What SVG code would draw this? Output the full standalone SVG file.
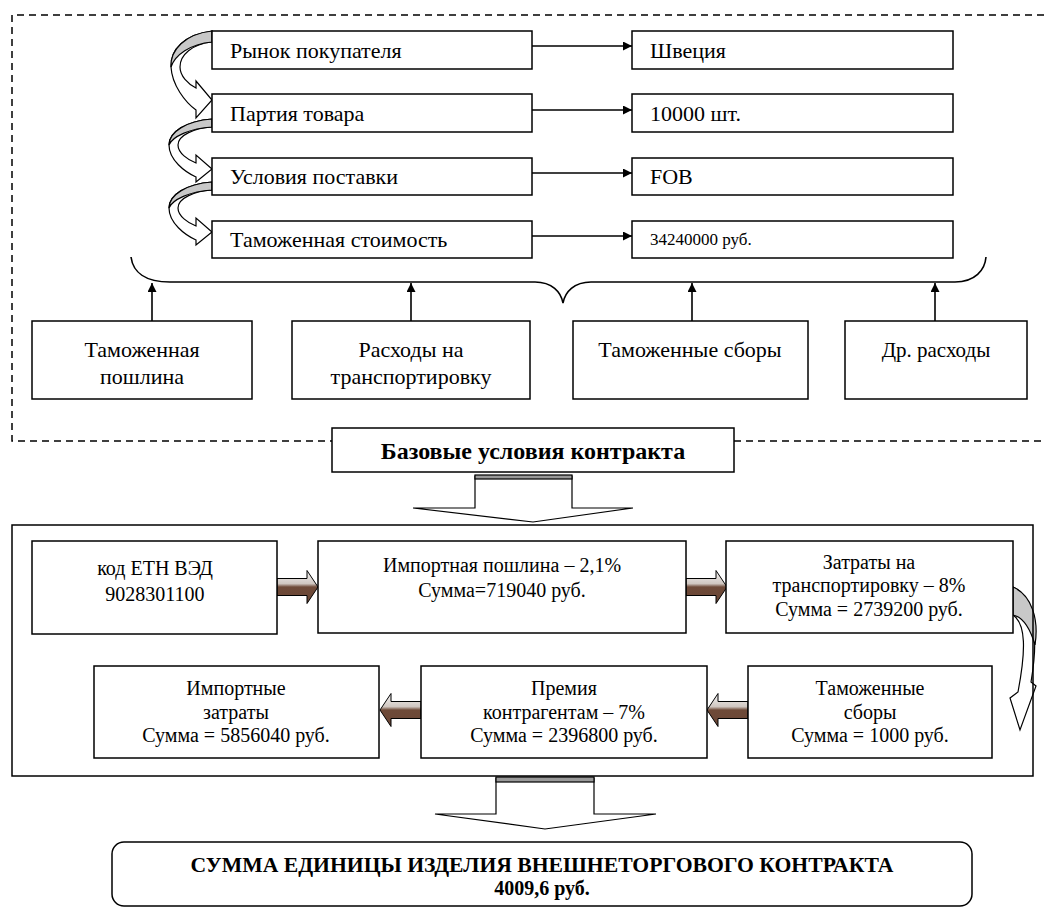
<svg xmlns="http://www.w3.org/2000/svg" width="1044" height="911" viewBox="0 0 1044 911">
<defs>
<style>
.box{fill:#fff;stroke:#000;stroke-width:1.5}
.t{font-family:'Liberation Serif','DejaVu Serif','Noto Serif',serif;font-size:19px;fill:#000}
.tl{font-size:22px}
.c{text-anchor:middle}
.b{font-weight:bold}
.dash{fill:none;stroke:#000;stroke-width:1.5;stroke-dasharray:7,5}
.ln{fill:none;stroke:#000;stroke-width:1.6}
.curv{fill:#fff;stroke:#000;stroke-width:1.2}
.gray{fill:#c8c8c8;stroke:#000;stroke-width:1.2}
.brown{fill:url(#bg);stroke:#000;stroke-width:1}
</style>
<marker id="ah" viewBox="0 0 10 10" refX="10" refY="5" markerWidth="10" markerHeight="9" markerUnits="userSpaceOnUse" orient="auto">
<path d="M0,0 L10,5 L0,10 Z" fill="#000"/>
</marker>
<linearGradient id="bg" x1="0" y1="0" x2="0" y2="1">
<stop offset="0" stop-color="#f6f6f6"/>
<stop offset="0.4" stop-color="#cfc6c0"/>
<stop offset="0.5" stop-color="#6e4a38"/>
<stop offset="1" stop-color="#6a4636"/>
</linearGradient>
<path id="brR" d="M0,-8.5 L30,-8.5 L30,-16.5 L41,0 L30,16.5 L30,8.5 L0,8.5 Z"/>
</defs>

<g id="frame">
<path class="dash" d="M1044,15 L12,15 L12,441 L333,441"/>
<path class="dash" d="M734,441 L1044,441"/>
</g>

<g id="connectors">
<line class="ln" x1="532" y1="46" x2="632" y2="46" marker-end="url(#ah)"/>
<line class="ln" x1="532" y1="110" x2="632" y2="110" marker-end="url(#ah)"/>
<line class="ln" x1="532" y1="173" x2="632" y2="173" marker-end="url(#ah)"/>
<line class="ln" x1="532" y1="236" x2="632" y2="236" marker-end="url(#ah)"/>
<path class="ln" d="M131,257 C133,272 145,282 170,282 L535,282 C552,282 561,292 563,303 C565,292 574,282 591,282 L955,282 C975,282 985,270 986,257"/>
<line class="ln" x1="152" y1="321" x2="152" y2="283" marker-end="url(#ah)"/>
<line class="ln" x1="411" y1="321" x2="411" y2="283" marker-end="url(#ah)"/>
<line class="ln" x1="692" y1="321" x2="692" y2="283" marker-end="url(#ah)"/>
<line class="ln" x1="935" y1="321" x2="935" y2="283" marker-end="url(#ah)"/>
<path class="curv" d="M212,31 C185,34 170,50 171,67 C172,85 185,102 196,110 L196,118 L212,100 L196,81 L196,88 C188,84 180,76 180,67 C180,55 192,44 212,42 Z"/>
<path class="gray" d="M212,31 C185,34 170,50 171,67 C175,55 190,44 212,42 Z"/>
<path class="curv" d="M212,119 C186,121 169,132 169,145 C169,160 185,172 196,177 L196,182 L212,169 L196,155 L196,163 C188,160 178,153 178,145 C178,135 195,128 212,127 Z"/>
<path class="gray" d="M212,119 C186,121 169,132 169,145 C172,137 190,128 212,127 Z"/>
<path class="curv" d="M212,182 C186,184 169,195 169,208 C169,223 185,235 196,240 L196,245 L212,232 L196,218 L196,226 C188,223 178,216 178,208 C178,198 195,191 212,190 Z"/>
<path class="gray" d="M212,182 C186,184 169,195 169,208 C172,200 190,191 212,190 Z"/>
<path class="curv" d="M475,476 L572,476 L572,508 L633,508 L533,522 L413,508 L475,508 Z"/>
<rect x="475" y="475" width="97" height="4" fill="#9a9a9a" stroke="#000" stroke-width="1.2"/>
<path class="curv" d="M496,778 L594,778 L594,814 L656,814 L545,829 L435,814 L496,814 Z"/>
<rect x="496" y="777" width="98" height="5" fill="#9a9a9a" stroke="#000" stroke-width="1.2"/>
<use href="#brR" class="brown" transform="translate(277,587)"/>
<use href="#brR" class="brown" transform="translate(686,587)"/>
<use href="#brR" class="brown" transform="translate(421,710) scale(-1,1)"/>
<use href="#brR" class="brown" transform="translate(748,710) scale(-1,1)"/>
<path class="curv" d="M1013,587 C1032,595 1040,630 1031,682 L1036,686 L1020,730 L1010,698 L1018,692 C1026,650 1026,624 1013,615 Z"/>
<path class="gray" d="M1013,587 C1032,595 1039,620 1035,645 C1030,628 1022,617 1013,615 Z"/>
</g>

<g id="n-rynok"><rect class="box" x="212" y="31" width="320" height="38"/><text class="t tl" x="230" y="58">Рынок покупателя</text></g>
<g id="n-partiya"><rect class="box" x="212" y="94" width="320" height="38"/><text class="t tl" x="230" y="121">Партия товара</text></g>
<g id="n-usloviya"><rect class="box" x="212" y="158" width="320" height="37"/><text class="t tl" x="230" y="184">Условия поставки</text></g>
<g id="n-tamst"><rect class="box" x="212" y="221" width="320" height="37"/><text class="t tl" x="230" y="247">Таможенная стоимость</text></g>

<g id="n-shveciya"><rect class="box" x="632" y="31" width="321" height="38"/><text class="t tl" x="650" y="58">Швеция</text></g>
<g id="n-10000"><rect class="box" x="632" y="94" width="321" height="38"/><text class="t tl" x="650" y="121">10000 шт.</text></g>
<g id="n-fob"><rect class="box" x="632" y="158" width="321" height="37"/><text class="t tl" x="650" y="184">FOB</text></g>
<g id="n-34240000"><rect class="box" x="632" y="221" width="321" height="37"/><text class="t" x="650" y="245" style="font-size:17px">34240000 руб.</text></g>

<g id="n-poshlina"><rect class="box" x="32" y="321" width="220" height="78"/><text class="t c tl" x="142" y="357">Таможенная</text><text class="t c tl" x="142" y="384">пошлина</text></g>
<g id="n-rashody"><rect class="box" x="292" y="321" width="238" height="78"/><text class="t c tl" x="411" y="357">Расходы на</text><text class="t c tl" x="411" y="384">транспортировку</text></g>
<g id="n-sbory"><rect class="box" x="573" y="321" width="235" height="78"/><text class="t c tl" x="690" y="357">Таможенные сборы</text></g>
<g id="n-dr"><rect class="box" x="845" y="321" width="182" height="78"/><text class="t c" x="936" y="357" style="font-size:21px">Др. расходы</text></g>

<g id="n-bazovye"><rect class="box" x="332" y="428" width="402" height="44"/><text class="t c b" x="533" y="459" style="font-size:24px">Базовые условия контракта</text></g>

<g id="n-mainbox"><rect x="12" y="525" width="1021" height="251" fill="none" stroke="#000" stroke-width="1.5"/></g>

<g id="n-kod"><rect class="box" x="32" y="541" width="245" height="93"/><text class="t c" x="155" y="575" style="font-size:20px">код ЕТН ВЭД</text><text class="t c" x="155" y="601" style="font-size:20px">9028301100</text></g>
<g id="n-importposh"><rect class="box" x="318" y="541" width="368" height="92"/><text class="t c" x="502" y="572" style="font-size:20px">Импортная пошлина – 2,1%</text><text class="t c" x="502" y="597" style="font-size:20px">Сумма=719040  руб.</text></g>
<g id="n-zatraty"><rect class="box" x="726" y="541" width="287" height="92"/><text class="t c" x="869" y="569" style="font-size:20px">Затраты на</text><text class="t c" x="869" y="592" style="font-size:20px">транспортировку – 8%</text><text class="t c" x="869" y="616" style="font-size:20px">Сумма = 2739200 руб.</text></g>

<g id="n-importzatr"><rect class="box" x="94" y="666" width="285" height="92"/><text class="t c" x="236" y="695" style="font-size:20px">Импортные</text><text class="t c" x="236" y="719" style="font-size:20px">затраты</text><text class="t c" x="236" y="742" style="font-size:20px">Сумма = 5856040 руб.</text></g>
<g id="n-premiya"><rect class="box" x="421" y="666" width="286" height="92"/><text class="t c" x="564" y="695" style="font-size:20px">Премия</text><text class="t c" x="564" y="719" style="font-size:20px">контрагентам – 7%</text><text class="t c" x="564" y="742" style="font-size:20px">Сумма = 2396800 руб.</text></g>
<g id="n-tamsbory"><rect class="box" x="748" y="666" width="244" height="92"/><text class="t c" x="870" y="695" style="font-size:20px">Таможенные</text><text class="t c" x="870" y="719" style="font-size:20px">сборы</text><text class="t c" x="870" y="742" style="font-size:20px">Сумма = 1000 руб.</text></g>

<g id="n-summa"><rect class="box" x="112" y="842" width="860" height="64" rx="12" ry="12"/><text class="t c b" x="542" y="872" textLength="703" lengthAdjust="spacingAndGlyphs" style="font-size:21px">СУММА ЕДИНИЦЫ ИЗДЕЛИЯ ВНЕШНЕТОРГОВОГО КОНТРАКТА</text><text class="t c b" x="542" y="895" style="font-size:20px">4009,6 руб.</text></g>
</svg>
